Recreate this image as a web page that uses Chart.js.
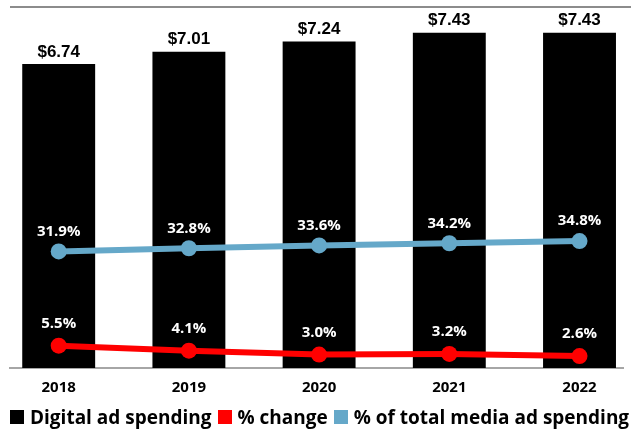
<!DOCTYPE html>
<html>
<head>
<meta charset="utf-8">
<script src="https://cdn.jsdelivr.net/npm/chart.js@4.4.1/dist/chart.umd.min.js"></script>
<style>
    html, body { margin: 0; padding: 0; background: #fff; overflow: hidden; }
    #wrap { position: relative; width: 631px; height: 433px; overflow: hidden; }
    #rule { position: absolute; left: 10px; right: 0; top: 6px; height: 2px; background: #8c8c8c; }
    #adChart { position: absolute; left: 0; top: 0; }
    #legend {
        position: absolute; left: 10px; top: 406px; width: 660px;
        display: flex; align-items: center; white-space: nowrap;
        font: bold 19px "Open Sans", sans-serif; color: #000; line-height: 22px;
    }
    #legend .item { display: flex; align-items: center; margin-right: 6px; }
    #legend .box { width: 14px; height: 14px; margin-right: 6px; }
</style>
</head>
<body>
<div id="wrap">
    <div id="rule"></div>
    <canvas id="adChart" width="631" height="408"></canvas>
    <div id="legend"></div>
</div>
<script>
// Daten
const years = ['2018', '2019', '2020', '2021', '2022'];
const adSpending = [6.74, 7.01, 7.24, 7.43, 7.43];       // Mrd. $
const pctChange = [5.5, 4.1, 3.0, 3.2, 2.6];
const pctOfTotal = [31.9, 32.8, 33.6, 34.2, 34.8];

const toPoints = arr => arr.map((v, i) => ({ x: i, y: v }));

// eigene Beschriftung der Werte
const valueLabels = {
    id: 'valueLabels',
    afterDatasetsDraw(chart) {
        const ctx = chart.ctx;
        ctx.save();
        ctx.textAlign = 'center';
        ctx.textBaseline = 'middle';
        chart.data.datasets.forEach((ds, di) => {
            const meta = chart.getDatasetMeta(di);
            meta.data.forEach((el, i) => {
                const v = ds.data[i].y;
                if (ds.type === 'bar') {
                    ctx.fillStyle = '#000';
                    ctx.font = 'bold 17px "Liberation Sans", Arial, sans-serif';
                    ctx.fillText('$' + v.toFixed(2), el.x, el.y - 12);
                } else {
                    ctx.fillStyle = '#fff';
                    ctx.font = 'bold 15px "Open Sans", sans-serif';
                    ctx.fillText(v.toFixed(1) + '%', el.x, el.y - ds.labelOffset);
                }
            });
        });
        ctx.restore();
    }
};

const ctx = document.getElementById('adChart').getContext('2d');
const chart = new Chart(ctx, {
    data: {
        datasets: [
            {
                type: 'bar',
                label: 'Digital ad spending',
                data: toPoints(adSpending),
                backgroundColor: '#000',
                yAxisID: 'y',
                order: 2,
                categoryPercentage: 1,
                barPercentage: 0.56
            },
            {
                type: 'line',
                label: '% change',
                data: toPoints(pctChange),
                borderColor: '#ff0000',
                backgroundColor: '#ff0000',
                borderWidth: 6,
                pointRadius: 8,
                pointBorderWidth: 0,
                yAxisID: 'yPct',
                order: 1,
                labelOffset: 22
            },
            {
                type: 'line',
                label: '% of total media ad spending',
                data: toPoints(pctOfTotal),
                borderColor: '#65a8c9',
                backgroundColor: '#65a8c9',
                borderWidth: 6,
                pointRadius: 8,
                pointBorderWidth: 0,
                yAxisID: 'yPct',
                order: 0,
                labelOffset: 20
            }
        ]
    },
    options: {
        responsive: false,
        animation: false,
        layout: { padding: { top: 0, left: 10, right: 0, bottom: 0 } },
        scales: {
            x: {
                type: 'linear',
                offset: false,
                min: -0.374,
                max: 4.334,
                grid: { display: false, drawTicks: false, offset: false },
                border: { display: true, color: '#a6a6a6', width: 2 },
                afterBuildTicks: axis => {
                    axis.ticks = years.map((_, i) => ({ value: i }));
                },
                ticks: {
                    padding: 11,
                    color: '#000',
                    font: { family: '"Open Sans", sans-serif', weight: 'bold', size: 15 },
                    callback: v => years[v]
                }
            },
            y: {
                display: false,
                min: 0,
                max: 7.98
            },
            yPct: {
                display: false,
                min: -0.75,
                max: 100.1
            }
        },
        plugins: {
            tooltip: { enabled: false },
            legend: { display: false }
        }
    },
    plugins: [valueLabels]
});

// eigene Legende
const legend = document.getElementById('legend');
chart.data.datasets.forEach(ds => {
    const item = document.createElement('div');
    item.className = 'item';
    const box = document.createElement('div');
    box.className = 'box';
    box.style.backgroundColor = ds.backgroundColor;
    const text = document.createElement('span');
    text.textContent = ds.label;
    item.appendChild(box);
    item.appendChild(text);
    legend.appendChild(item);
});
</script>
</body>
</html>
